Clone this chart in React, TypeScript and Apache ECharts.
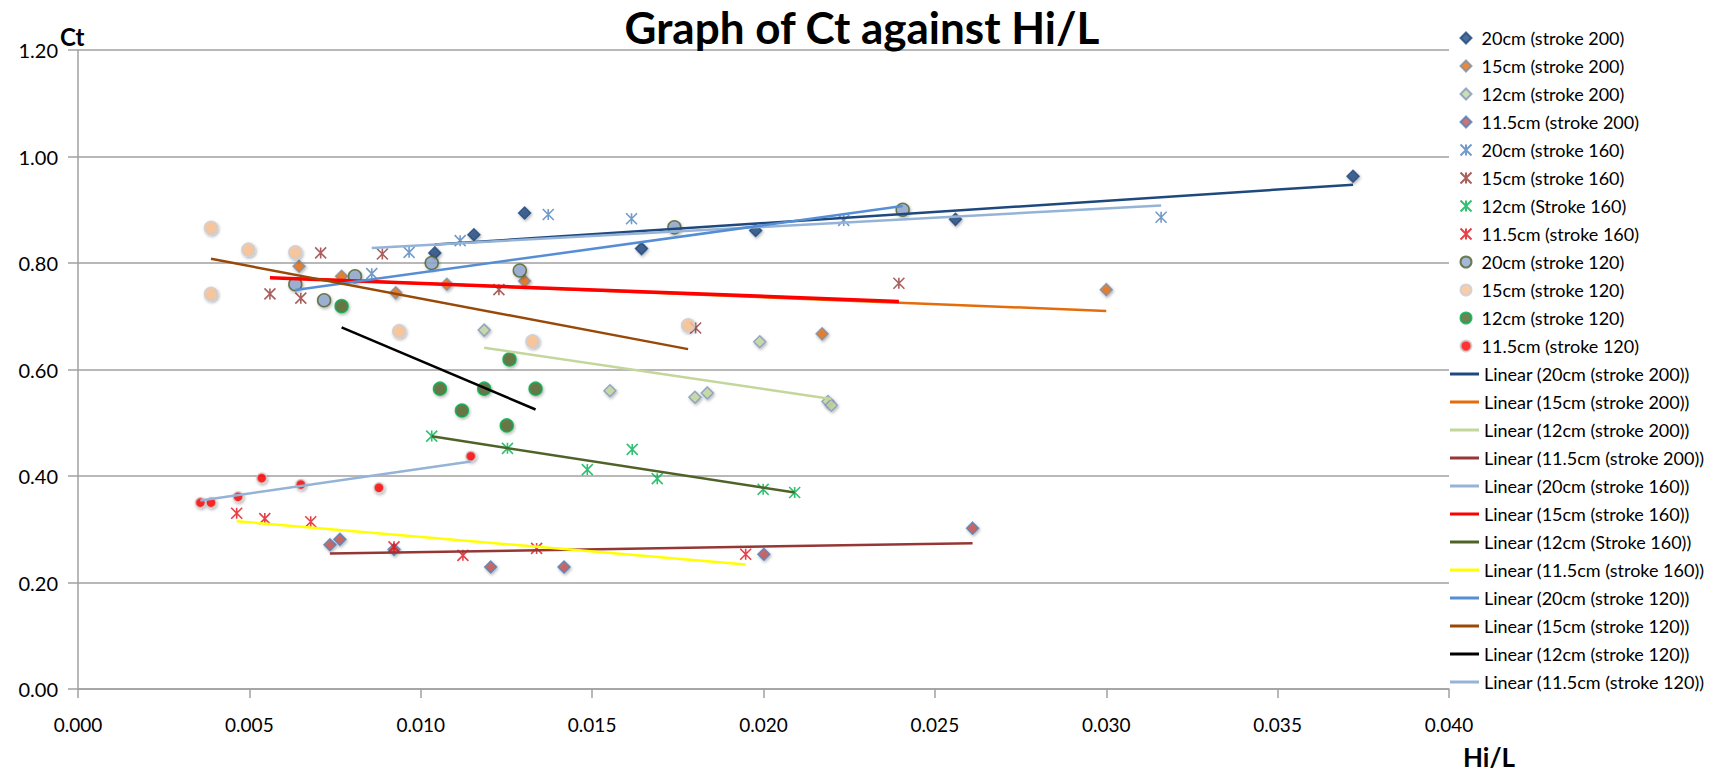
import React, { useEffect, useRef } from "react";
import * as echarts from "echarts";

// ---- data (x = Hi/L, y = Ct) ----
const s200_20 = [[0.01041, 0.819], [0.01155, 0.853], [0.01303, 0.894], [0.01644, 0.827], [0.01977, 0.861], [0.0256, 0.882], [0.0372, 0.963]];
const s200_15 = [[0.00645, 0.794], [0.00769, 0.775], [0.00927, 0.744], [0.01076, 0.760], [0.01303, 0.766], [0.02171, 0.667], [0.0300, 0.750]];
const s200_12 = [[0.01185, 0.674], [0.01552, 0.560], [0.0180, 0.548], [0.01836, 0.556], [0.01989, 0.652], [0.02188, 0.540], [0.02198, 0.533]];
const s200_115 = [[0.00735, 0.271], [0.00764, 0.281], [0.00922, 0.262], [0.01204, 0.229], [0.01418, 0.229], [0.02001, 0.253], [0.0261, 0.302]];
const s160_20 = [[0.00857, 0.780], [0.00966, 0.820], [0.01115, 0.842], [0.01372, 0.891], [0.01615, 0.883], [0.02234, 0.880], [0.0316, 0.886]];
const s160_15 = [[0.0056, 0.742], [0.0065, 0.734], [0.00708, 0.819], [0.00888, 0.817], [0.01228, 0.750], [0.01802, 0.678], [0.02395, 0.762]];
const s160_12 = [[0.01032, 0.475], [0.01253, 0.452], [0.01486, 0.412], [0.01617, 0.450], [0.0169, 0.395], [0.01999, 0.375], [0.02091, 0.369]];
const s160_115 = [[0.00463, 0.330], [0.00545, 0.320], [0.00679, 0.314], [0.00922, 0.267], [0.01123, 0.251], [0.01338, 0.264], [0.01948, 0.253]];
const s120_20 = [[0.00634, 0.760], [0.00718, 0.730], [0.00808, 0.775], [0.01032, 0.800], [0.01289, 0.786], [0.0174, 0.867], [0.02406, 0.900]];
const s120_15 = [[0.00388, 0.866], [0.00388, 0.742], [0.00497, 0.825], [0.00634, 0.820], [0.00937, 0.672], [0.01326, 0.653], [0.0178, 0.683]];
const s120_12 = [[0.00769, 0.719], [0.01056, 0.564], [0.0112, 0.523], [0.01185, 0.564], [0.01251, 0.495], [0.01259, 0.619], [0.01335, 0.564]];
const s120_115 = [[0.00357, 0.350], [0.00388, 0.350], [0.00467, 0.361], [0.00536, 0.396], [0.0065, 0.384], [0.00878, 0.378], [0.01146, 0.437]];

const seriesNames = [
  "20cm (stroke 200)", "15cm (stroke 200)", "12cm (stroke 200)", "11.5cm (stroke 200)",
  "20cm (stroke 160)", "15cm (stroke 160)", "12cm (Stroke 160)", "11.5cm (stroke 160)",
  "20cm (stroke 120)", "15cm (stroke 120)", "12cm (stroke 120)", "11.5cm (stroke 120)",
];
const seriesData = [s200_20, s200_15, s200_12, s200_115, s160_20, s160_15, s160_12, s160_115, s120_20, s120_15, s120_12, s120_115];

const yTicks = [0, 0.2, 0.4, 0.6, 0.8, 1.0, 1.2];
const xTicks = [0, 0.005, 0.01, 0.015, 0.02, 0.025, 0.03, 0.035, 0.04];

const STAR = "path://M0,0L10,10M10,0L0,10M5,0L5,10";

// marker styles: [symbol, fill, border, size]
const markerStyles: [string, string, string, number][] = [
  ["diamond", "#1F497D", "#1F497D", 12],
  ["diamond", "#E36C09", "#7F8FA6", 12],
  ["diamond", "#C3D69B", "#7F97BF", 12],
  ["diamond", "#C0504D", "#4F81BD", 12],
  [STAR, "none", "#4F81BD", 11],
  [STAR, "none", "#953735", 11],
  [STAR, "none", "#00B050", 11],
  [STAR, "none", "#E0101A", 11],
  ["circle", "#8EA6CE", "#4F6228", 13],
  ["circle", "#FAC090", "#C8CDD8", 13],
  ["circle", "#4F6228", "#00B050", 13],
  ["circle", "#FF0000", "#D0D0D0", 10],
];

const trendColors = ["#1F497D", "#E46C0A", "#C3D69B", "#953735", "#95B3D7", "#FF0000", "#4F6228", "#FFFF00", "#558ED5", "#984807", "#000000", "#95B3D7"];
const trendWidths = [2.5, 2.5, 2.5, 2.5, 2.5, 3.5, 2.5, 2.5, 2.5, 2.5, 2.5, 2.5];

function linearTrend(pts: number[][]) {
  const n = pts.length;
  const mx = pts.reduce((a, p) => a + p[0], 0) / n;
  const my = pts.reduce((a, p) => a + p[1], 0) / n;
  let sxy = 0, sxx = 0;
  pts.forEach((p) => { sxy += (p[0] - mx) * (p[1] - my); sxx += (p[0] - mx) ** 2; });
  const b = sxy / sxx;
  const a = my - b * mx;
  const xs = pts.map((p) => p[0]);
  const x0 = Math.min(...xs), x1 = Math.max(...xs);
  return [[x0, a + b * x0], [x1, a + b * x1]];
}

const FONT = "Lato";
const LEG_TOP = 24;
const LEG_STEP = 28;
const LEG_FONT = 18;

export default function App() {
  const ref = useRef<HTMLDivElement>(null);
  useEffect(() => {
    document.body.style.margin = "0";
    const chart = echarts.init(ref.current!, undefined, { renderer: "svg" });
    const scatter = seriesNames.map((name, i) => {
      const [sym, fill, border, size] = markerStyles[i];
      const isStar = sym === STAR;
      return {
        name,
        type: "scatter",
        data: seriesData[i],
        symbol: sym,
        symbolSize: size,
        itemStyle: isStar
          ? { color: "none", borderColor: border, borderWidth: 1.6 }
          : {
              color: fill, borderColor: border, borderWidth: 1.5,
              shadowBlur: 3, shadowColor: "rgba(0,0,0,0.35)", shadowOffsetX: 1, shadowOffsetY: 1.5,
            },
        z: 2,
      };
    });
    const trendNames = seriesNames.map((n) => `Linear (${n})`);
    const trends = seriesNames.map((name, i) => ({
      name: trendNames[i],
      type: "line",
      data: linearTrend(seriesData[i]),
      symbol: "none",
      showSymbol: false,
      lineStyle: { color: trendColors[i], width: trendWidths[i] },
      itemStyle: { color: trendColors[i] },
      z: 3,
    }));
    const legendText = { fontFamily: FONT, fontSize: LEG_FONT, color: "#000" };
    chart.setOption({
      animation: false,
      backgroundColor: "#FFFFFF",
      title: {
        text: "Graph of Ct against Hi/L",
        left: "center",
        top: 0,
        textStyle: { fontFamily: FONT, fontSize: 44, fontWeight: "bold", color: "#000" },
      },
      graphic: [
        { type: "text", left: 60, top: 24, style: { text: "Ct", fontFamily: FONT, fontSize: 24, fontWeight: "bold", fill: "#000" } },
        { type: "text", left: 1463, top: 744, style: { text: "Hi/L", fontFamily: FONT, fontSize: 26, fontWeight: "bold", fill: "#000" } },
      ],
      legend: [
        {
          orient: "vertical",
          left: 1453,
          top: LEG_TOP,
          itemWidth: 11,
          itemHeight: 11,
          itemGap: LEG_STEP - LEG_FONT,
          data: seriesNames,
          textStyle: { ...legendText, padding: [0, 0, 0, 5] },
        },
        {
          orient: "vertical",
          left: 1445,
          top: LEG_TOP + 12 * LEG_STEP,
          itemWidth: 29,
          itemHeight: 3,
          itemGap: LEG_STEP - LEG_FONT,
          data: trendNames.map((n) => ({ name: n, icon: "rect" })),
          textStyle: legendText,
        },
      ],
      grid: { left: 78, right: 275, top: 50, bottom: 84, containLabel: false },
      xAxis: {
        type: "value",
        min: xTicks[0],
        max: xTicks[xTicks.length - 1],
        interval: 0.005,
        axisLine: { show: true, lineStyle: { color: "#A0A0A0", width: 1.5 } },
        axisTick: { show: true, length: 9, lineStyle: { color: "#A0A0A0", width: 1.5 } },
        splitLine: { show: false },
        axisLabel: { fontFamily: FONT, fontSize: 19, color: "#000", margin: 26, formatter: (v: number) => v.toFixed(3) },
      },
      yAxis: {
        type: "value",
        min: yTicks[0],
        max: yTicks[yTicks.length - 1],
        interval: 0.2,
        axisLine: { show: true, lineStyle: { color: "#A0A0A0", width: 1.5 } },
        axisTick: { show: true, length: 10, lineStyle: { color: "#A0A0A0", width: 1.5 } },
        splitLine: { show: true, lineStyle: { color: "#A0A0A0", width: 1.5 } },
        axisLabel: { fontFamily: FONT, fontSize: 20, color: "#000", margin: 20, formatter: (v: number) => v.toFixed(2) },
      },
      series: [...scatter, ...trends],
    });
    return () => chart.dispose();
  }, []);
  return <div ref={ref} style={{ position: "absolute", left: 0, top: 0, width: 1724, height: 773 }} />;
}
